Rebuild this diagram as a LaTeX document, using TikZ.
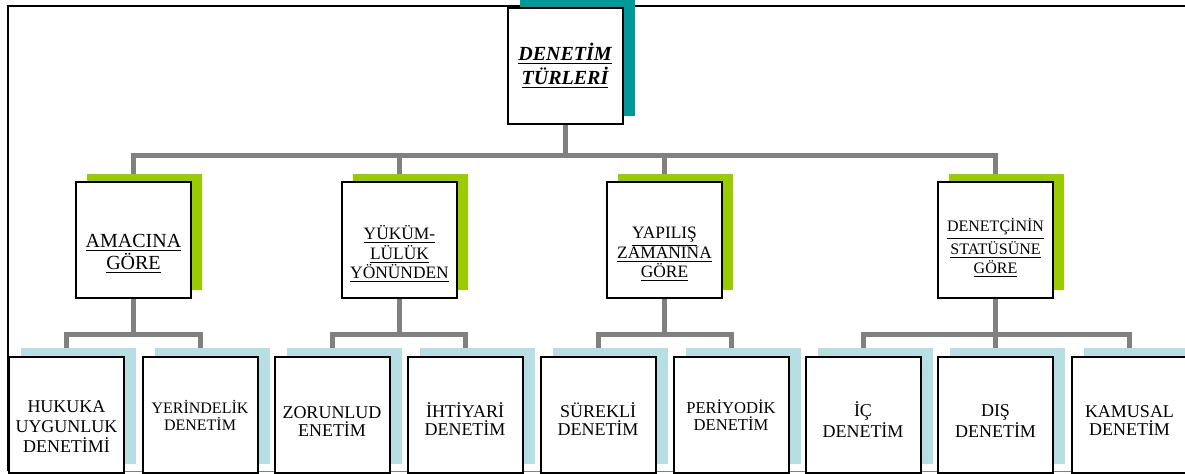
\documentclass[tikz,border=0pt]{standalone}
\usepackage{fontspec}
\setmainfont{Liberation Serif}
\usepackage{xcolor}
\usetikzlibrary{shadows,backgrounds}

\definecolor{rootteal}{RGB}{0,153,153}
\definecolor{grouplime}{RGB}{153,204,0}
\definecolor{leafpale}{RGB}{183,222,227}
\definecolor{linkgray}{RGB}{128,128,128}
\newcommand{\firstdrop}[1]{\rule{0pt}{#1}}

\begin{document}
\begin{tikzpicture}[x=0.5pt,y=-0.5pt,
		box/.style={draw=black,line width=1pt,fill=white,minimum width=57.5pt,minimum height=58pt,inner sep=1pt,align=center},
		rootbox/.style={box,general shadow={fill=rootteal,shadow xshift=6pt,shadow yshift=4pt}},
		groupbox/.style={box,general shadow={fill=grouplime,shadow xshift=5.5pt,shadow yshift=4pt},font=\fontsize{8.7}{9.75}\selectfont},
		leafbox/.style={box,general shadow={fill=leafpale,shadow xshift=6pt,shadow yshift=4.5pt},font=\fontsize{9}{9}\selectfont},
		link/.style={linkgray,line width=2.5pt}]
		\useasboundingbox (0,0) rectangle (1185,473);
		% top
		\node[rootbox,font=\fontsize{10}{12}\selectfont\bfseries\itshape] (root) at (565,65.5) {\underline{DENETİM}\\\underline{TÜRLERİ}};
		% groups
		\node[groupbox,font=\fontsize{10}{11}\selectfont] (amac) at (133.5,240) {\firstdrop{20.5pt}\underline{AMACINA}\\\underline{GÖRE}};
		\node[groupbox] (yukum) at (399.5,240) {\firstdrop{21.5pt}\underline{YÜKÜM-}\\\underline{LÜLÜK}\\\underline{YÖNÜNDEN}};
		\node[groupbox] (yapil) at (664.5,240) {\firstdrop{20.5pt}\underline{YAPILIŞ}\\\underline{ZAMANINA}\\\underline{GÖRE}};
		\node[groupbox,font=\fontsize{8}{9.75}\selectfont] (statu) at (995.5,240) {\firstdrop{15pt}\underline{DENETÇİNİN}\\\underline{STATÜSÜNE}\\\underline{GÖRE}};
		% leaves
		\node[leafbox,font=\fontsize{9}{10}\selectfont] (hukuk) at (66.5,415) {\firstdrop{18pt}HUKUKA\\UYGUNLUK\\DENETİMİ};
		\node[leafbox,font=\fontsize{8}{8.5}\selectfont] (yerin) at (200,415) {YERİNDELİK\\DENETİM};
		\node[leafbox] (zorun) at (332,415) {\firstdrop{12pt}ZORUNLUD\\ENETİM};
		\node[leafbox] (ihtiy) at (465,415) {\firstdrop{12pt}İHTİYARİ\\DENETİM};
		\node[leafbox] (surek) at (598,415) {\firstdrop{12pt}SÜREKLİ\\DENETİM};
		\node[leafbox,font=\fontsize{8.3}{8.5}\selectfont] (period) at (731,415) {PERİYODİK\\DENETİM};
		\node[leafbox] (icden) at (863,415) {\firstdrop{12pt}İÇ\\DENETİM};
		\node[leafbox] (disden) at (995.5,415) {\firstdrop{12pt}DIŞ\\DENETİM};
		\node[leafbox] (kamus) at (1129.5,415) {\firstdrop{12pt}KAMUSAL\\DENETİM};
		\begin{scope}[on background layer]
			\draw[line width=1pt] (1190,6) -- (8,6) -- (8,471);
			\draw[gray] (8,471) -- (1190,471);
			\draw[link] (root.south) -- ++(0,31) -| (amac.north);
			\draw[link] (root.south) -- ++(0,31) -| (yukum.north);
			\draw[link] (root.south) -- ++(0,31) -| (yapil.north);
			\draw[link] (root.south) -- ++(0,31) -| (statu.north);
			\draw[link] (amac.south) -- ++(0,35) -| (hukuk.north);
			\draw[link] (amac.south) -- ++(0,35) -| (yerin.north);
			\draw[link] (yukum.south) -- ++(0,35) -| (zorun.north);
			\draw[link] (yukum.south) -- ++(0,35) -| (ihtiy.north);
			\draw[link] (yapil.south) -- ++(0,35) -| (surek.north);
			\draw[link] (yapil.south) -- ++(0,35) -| (period.north);
			\draw[link] (statu.south) -- ++(0,35) -| (icden.north);
			\draw[link] (statu.south) -- ++(0,35) -| (disden.north);
			\draw[link] (statu.south) -- ++(0,35) -| (kamus.north);
		\end{scope}
	\end{tikzpicture}
\end{document}
